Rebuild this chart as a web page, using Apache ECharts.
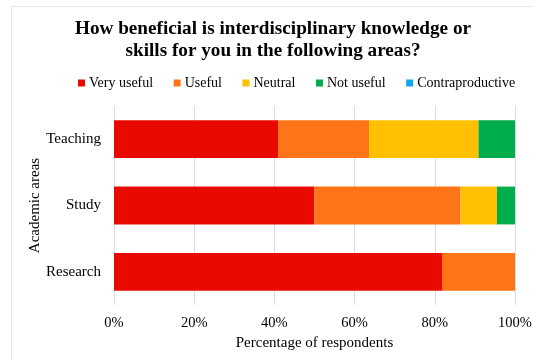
<!DOCTYPE html>
<html><head><meta charset="utf-8">
<script src="https://cdn.jsdelivr.net/npm/echarts@6/dist/echarts.min.js"></script>
<style>html,body{margin:0;padding:0;background:#fff}#c{width:533px;height:360px}</style>
</head><body><div id="c"></div>
<script>
var categories = ['Research', 'Study', 'Teaching'];
var seriesNames = ['Very useful', 'Useful', 'Neutral', 'Not useful', 'Contraproductive'];
var veryUseful = [81.8, 50.0, 40.9];
var useful = [18.2, 36.4, 22.7];
var neutral = [0, 9.1, 27.3];
var notUseful = [0, 4.5, 9.1];
var contraproductive = [0, 0, 0];
var xTicks = [0, 20, 40, 60, 80, 100];
var colors = ['#E80A00', '#FF7417', '#FFC000', '#00AD4C', '#12A8E8'];

var values = [veryUseful, useful, neutral, notUseful, contraproductive];
var font = '"Liberation Serif", "Times New Roman", serif';
var chart = echarts.init(document.getElementById('c'));
chart.setOption({
  animation: false,
  color: colors,
  textStyle: {fontFamily: font},
  graphic: [{type: 'rect', shape: {x: 11.5, y: 6.5, width: 600, height: 400}, style: {fill: 'none', stroke: '#e6e6e6', lineWidth: 1}, silent: true}],
  title: {
    text: 'How beneficial is interdisciplinary knowledge or\nskills for you in the following areas?',
    left: 268, textAlign: 'center', top: 13,
    textStyle: {fontFamily: font, fontWeight: 'bold', fontSize: 19.2, color: '#000', lineHeight: 22}
  },
  legend: {
    top: 71, left: 73, width: 460, padding: 5,
    itemWidth: 7, itemHeight: 7, itemGap: 20.5,
    icon: 'rect',
    textStyle: {fontFamily: font, fontSize: 14, color: '#000', padding: [0, 0, 0, -1]},
    data: seriesNames
  },
  grid: {left: 114, right: 18, top: 106, bottom: 55, outerBoundsMode: 'none', containLabel: false},
  xAxis: {
    type: 'value', min: 0, max: 100, interval: 20,
    name: 'Percentage of respondents', nameLocation: 'middle', nameGap: 31,
    nameTextStyle: {fontFamily: font, fontSize: 15, color: '#000'},
    axisLabel: {fontFamily: font, fontSize: 14.5, color: '#000', margin: 11, formatter: function(v){ return xTicks.indexOf(v) >= 0 ? v + '%' : ''; }},
    splitLine: {show: true, lineStyle: {color: '#dcdcdc'}},
    axisLine: {show: false}, axisTick: {show: false}
  },
  yAxis: {
    type: 'category', data: categories,
    name: 'Academic areas', nameLocation: 'middle', nameGap: 71, nameRotate: 90, nameMoveOverlap: false,
    nameTextStyle: {fontFamily: font, fontSize: 15, color: '#000'},
    axisLabel: {fontFamily: font, fontSize: 15, color: '#000', margin: 13},
    axisLine: {show: false}, axisTick: {show: false}
  },
  series: seriesNames.map(function(n, i){
    return {name: n, type: 'bar', stack: 'total', data: values[i], barCategoryGap: '43%'};
  })
});
</script></body></html>
